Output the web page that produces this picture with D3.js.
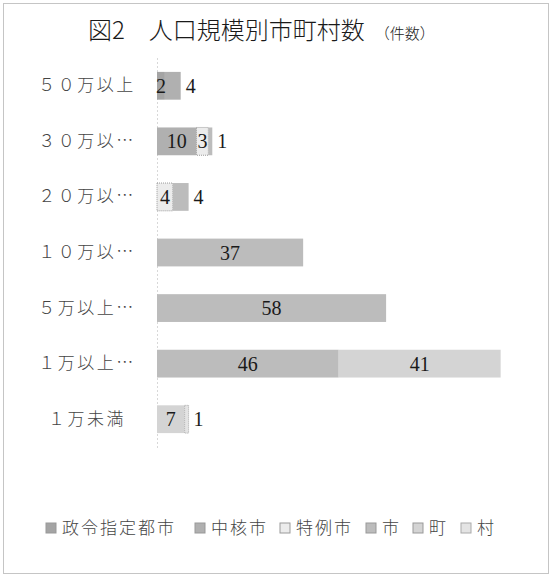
<!DOCTYPE html>
<html><head><meta charset="utf-8">
<script src="https://cdn.jsdelivr.net/npm/d3@7"></script>
<style>
html,body{margin:0;padding:0;background:#fff;}
svg{display:block;}
</style></head>
<body>
<svg id="chart" width="551" height="577"></svg>
<script>
const categories = ["５０万以上","３０万以…","２０万以…","１０万以…","５万以上…","１万以上…","１万未満"];
const seriesNames = ["政令指定都市","中核市","特例市","市","町","村"];
const seireiValues  = [2, 0, 0, 0, 0, 0, 0];
const chukakuValues = [4, 10, 0, 0, 0, 0, 0];
const tokureiValues = [0, 3, 4, 0, 0, 0, 0];
const shiValues     = [0, 1, 4, 37, 58, 46, 0];
const choValues     = [0, 0, 0, 0, 0, 41, 7];
const sonValues     = [0, 0, 0, 0, 0, 0, 1];
const titleMain = "図2　人口規模別市町村数";
const titleSub = "（件数）";

const seriesValues = [seireiValues, chukakuValues, tokureiValues, shiValues, choValues, sonValues];
const fills = ["#a4a4a4", "#b0b0b0", "#ececec", "#bcbcbc", "#d4d4d4", "#e4e4e4"];
const strokes = ["none", "none", "#9a9a9a", "none", "none", "#aaaaaa"];

const table = categories.map((c, i) => {
  const o = {cat: c};
  seriesNames.forEach((s, j) => o[s] = seriesValues[j][i]);
  return o;
});
const stack = d3.stack().keys(seriesNames)(table);

const svg = d3.select("#chart");
const serif = "'Liberation Serif','Noto Sans CJK JP',serif";
const cjk = "'Noto Sans CJK JP','Liberation Serif',sans-serif";

// frame
svg.append("rect").attr("x", 3.5).attr("y", 3.5).attr("width", 545).attr("height", 570)
  .attr("fill", "none").attr("stroke", "#8a8a8a").attr("stroke-width", 1).attr("stroke-dasharray", "1,1");

// title
const t = svg.append("text").attr("x", 88).attr("y", 39).attr("text-anchor", "start")
  .attr("fill", "#1a1a1a").attr("font-family", cjk).attr("font-weight", 300);
t.append("tspan").attr("font-size", 24).text(titleMain);
t.append("tspan").attr("font-size", 15).attr("dx", 10).text(titleSub);

const x = d3.scaleLinear().domain([0, 100]).range([157, 552]);
const y = d3.scaleBand().domain(categories).range([58, 447]).paddingInner(0.5).paddingOuter(0.25);

// category axis
const yAxis = d3.axisLeft(y).tickSize(0).tickPadding(0);
const ga = svg.append("g").attr("transform", `translate(${x(0)},0)`).call(yAxis);
ga.select(".domain").attr("stroke", "#b0b0b0").attr("stroke-dasharray", "1,3");
ga.selectAll("text").attr("font-family", cjk).attr("font-size", 17).attr("fill", "#444")
  .attr("font-weight", 300)
  .attr("letter-spacing", 2.5).attr("text-anchor", "middle").attr("x", -70);

// bars
const layers = svg.append("g").selectAll("g").data(stack).join("g")
  .attr("fill", (d, i) => fills[i]).attr("stroke", (d, i) => strokes[i])
  .attr("stroke-dasharray", "1,1");
layers.selectAll("rect").data(d => d.filter(p => p[1] - p[0] > 0)).join("rect")
  .attr("x", p => x(p[0])).attr("y", p => y(p.data.cat))
  .attr("width", p => x(p[1]) - x(p[0])).attr("height", y.bandwidth());

// labels
const rowEnd = {};
stack.forEach(layer => layer.forEach(p => { rowEnd[p.data.cat] = Math.max(rowEnd[p.data.cat] || 0, p[1]); }));
const labels = [];
stack.forEach((layer, si) => layer.forEach(p => {
  const v = p[1] - p[0];
  if (v <= 0) return;
  const w = x(p[1]) - x(p[0]);
  const isLast = p[1] === rowEnd[p.data.cat];
  if (isLast && w < 20) labels.push({v, cat: p.data.cat, xp: x(p[1]) + 5, anchor: "start"});
  else labels.push({v, cat: p.data.cat, xp: (x(p[0]) + x(p[1])) / 2, anchor: "middle"});
}));
svg.append("g").selectAll("text").data(labels).join("text")
  .attr("x", d => d.xp).attr("y", d => y(d.cat) + y.bandwidth() / 2).attr("dy", "0.35em")
  .attr("text-anchor", d => d.anchor).attr("font-family", serif).attr("font-size", 20)
  .attr("fill", "#1a1a1a").text(d => d.v);

// legend
const legendX = [46, 195, 280, 366, 413, 461];
const lg = svg.append("g").selectAll("g").data(seriesNames).join("g")
  .attr("transform", (d, i) => `translate(${legendX[i]},528)`);
lg.append("rect").attr("x", 0).attr("y", -5).attr("width", 10).attr("height", 10)
  .attr("fill", (d, i) => fills[i]).attr("stroke", (d, i) => strokes[i] === "none" ? "#999" : strokes[i]);
lg.append("text").attr("x", 16).attr("dy", "0.35em").attr("font-family", cjk).attr("font-size", 17)
  .attr("font-weight", 300)
  .attr("letter-spacing", 2).attr("fill", "#444").text(d => d);
</script>
</body></html>
